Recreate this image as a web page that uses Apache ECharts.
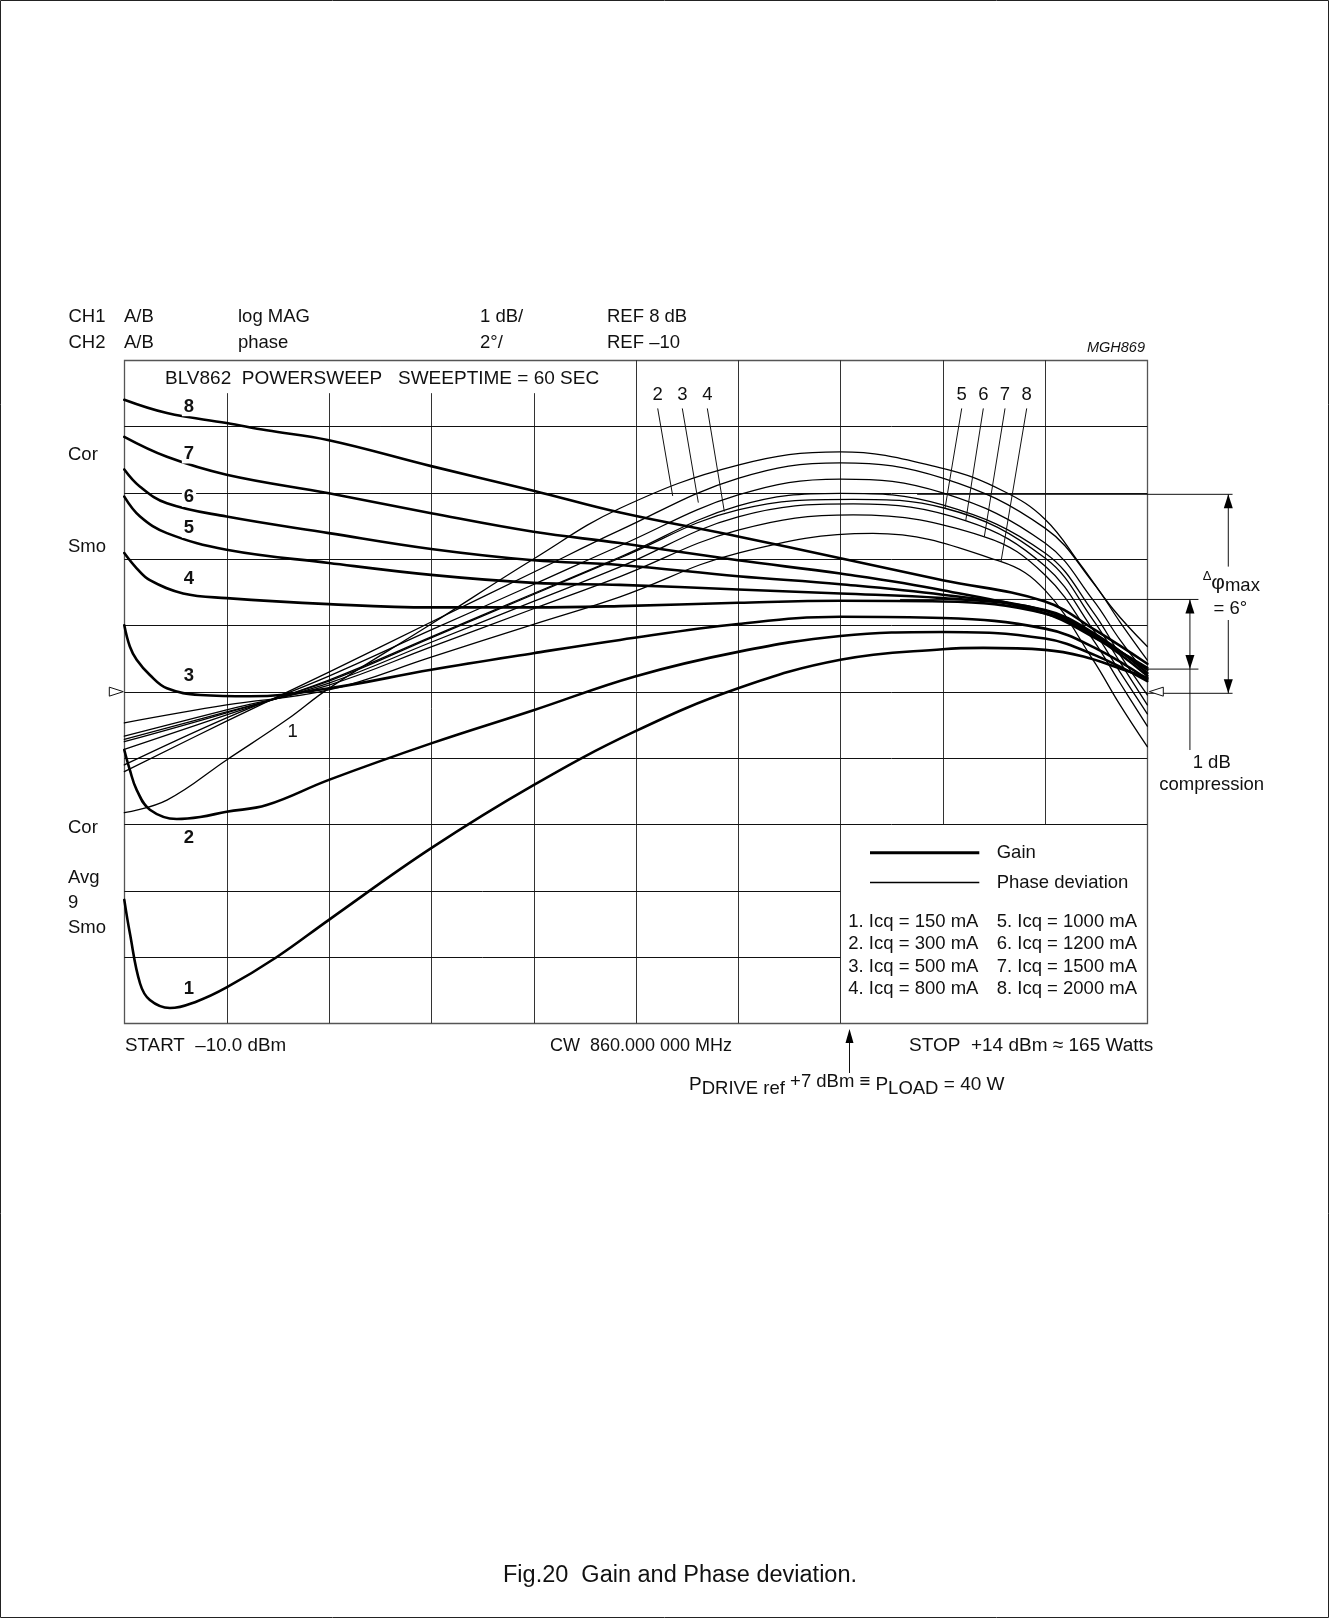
<!DOCTYPE html>
<html>
<head>
<meta charset="utf-8">
<title>Fig.20 Gain and Phase deviation</title>
<script src="https://cdn.jsdelivr.net/npm/echarts@6/dist/echarts.min.js"></script>
<style>
html,body{margin:0;padding:0;background:#fff;}
#chart{width:1329px;height:1618px;}
</style>
</head>
<body>
<div id="chart"></div>
<script>
// ---------------- DATA ----------------
// x: drive power (dBm), START -10 dBm .. STOP +14 dBm
// CH1 gain: 1 dB/div, REF 8 dB ; CH2 phase: 2 deg/div, REF -10
const xTicks = [-10, -7.6, -5.2, -2.8, -0.4, 2, 4.4, 6.8, 9.2, 11.6, 14];
const gainTicks = [3, 4, 5, 6, 7, 8, 9, 10, 11, 12, 13];
const phaseTicks = [-20, -18, -16, -14, -12, -10, -8, -6, -4, -2, 0];
const gainRef = 8;
const phaseRef = -10;

// Gain curves (dB) for Icq 1..8
const gain1 = [[-10,4.86],[-9.87,4.36],[-9.63,3.60],[-9.40,3.35],[-8.93,3.23],[-8.30,3.33],[-7.6,3.54],[-6.42,4.00],[-5.2,4.56],[-2.8,5.64],[-0.4,6.59],[1.98,7.40],[4.4,8.05],[6.8,8.48],[9.2,8.64],[10.15,8.66],[11.6,8.63],[12.5,8.53],[13.36,8.35],[14,8.21]];
const gain2 = [[-10,7.12],[-9.87,6.82],[-9.71,6.52],[-9.40,6.22],[-8.77,6.08],[-8.22,6.11],[-7.6,6.19],[-6.66,6.29],[-5.2,6.67],[-2.8,7.22],[-0.4,7.72],[1.98,8.23],[4.4,8.60],[6.8,8.84],[9.2,8.90],[11.6,8.80],[12.77,8.55],[14,8.16]];
const gain3 = [[-10,9.00],[-9.87,8.68],[-9.71,8.48],[-9.40,8.25],[-9.0,8.05],[-8.22,7.95],[-7.05,7.93],[-5.2,8.05],[-2.8,8.33],[-0.4,8.58],[1.63,8.78],[4.4,9.02],[6.8,9.13],[9.2,9.11],[11.6,8.95],[12.77,8.66],[14,8.19]];
const gain4 = [[-10,10.09],[-9.71,9.86],[-9.40,9.68],[-8.62,9.48],[-7.6,9.41],[-5.2,9.32],[-2.8,9.27],[-0.4,9.27],[1.63,9.29],[4.4,9.34],[6.8,9.37],[9.2,9.36],[11.6,9.18],[12.77,8.82],[14,8.24]];
const gain5 = [[-10,10.94],[-9.63,10.64],[-9.0,10.39],[-7.6,10.14],[-5.2,9.94],[-2.8,9.76],[-0.4,9.64],[1.63,9.61],[4.4,9.54],[6.8,9.48],[9.2,9.41],[11.6,9.23],[12.77,8.87],[14,8.28]];
const gain6 = [[-10,11.35],[-9.63,11.09],[-9.0,10.84],[-7.6,10.64],[-5.2,10.39],[-2.8,10.15],[-0.4,9.98],[1.63,9.91],[4.4,9.74],[6.8,9.62],[9.2,9.46],[11.6,9.22],[12.77,8.84],[14,8.33]];
const gain7 = [[-10,11.84],[-9.0,11.54],[-7.6,11.27],[-5.2,10.99],[-2.8,10.69],[-0.4,10.41],[1.63,10.24],[4.4,9.98],[6.8,9.78],[9.2,9.53],[11.6,9.18],[12.77,8.81],[14,8.36]];
const gain8 = [[-10,12.40],[-9.0,12.20],[-7.6,12.05],[-6.66,11.94],[-5.2,11.79],[-2.8,11.40],[-0.4,11.03],[1.63,10.70],[4.4,10.34],[6.8,10.01],[9.2,9.68],[11.6,9.36],[12.77,8.93],[14,8.42]];

// Phase deviation curves (degrees) for Icq 1..8
const phase1 = [[-10,-13.65],[-9.0,-13.27],[-7.6,-12.06],[-6.19,-10.85],[-5.2,-9.90],[-2.8,-7.96],[-0.4,-6.00],[1.63,-4.47],[4.4,-3.17],[6.8,-2.77],[9.2,-3.27],[10.62,-3.95],[11.6,-4.80],[12.45,-6.20],[13.19,-7.50],[14,-8.64]];
const phase2 = [[-10,-12.41],[-7.6,-10.89],[-5.2,-9.41],[-2.8,-7.90],[-0.4,-6.40],[1.63,-5.13],[4.4,-3.57],[6.8,-3.10],[9.2,-3.56],[11.6,-5.07],[12.73,-6.72],[13.36,-7.90],[14,-9.05]];
const phase3 = [[-10,-12.21],[-7.6,-10.79],[-5.2,-9.53],[-2.8,-8.14],[-0.4,-6.77],[1.63,-5.60],[4.4,-4.07],[6.8,-3.59],[9.2,-4.01],[11.6,-5.52],[12.73,-7.24],[13.36,-8.44],[14,-9.50]];
const phase4 = [[-10,-11.74],[-7.6,-10.70],[-5.2,-9.65],[-2.8,-8.35],[-0.4,-7.04],[1.63,-5.94],[4.4,-4.40],[6.8,-4.02],[9.2,-4.37],[11.6,-5.82],[12.73,-7.60],[13.36,-8.89],[14,-10.10]];
const phase5 = [[-10,-11.51],[-7.6,-10.64],[-5.2,-9.68],[-2.8,-8.38],[-0.4,-7.07],[1.63,-5.97],[4.4,-4.52],[7.1,-4.20],[9.25,-4.47],[11.6,-5.97],[12.73,-7.84],[13.36,-9.11],[14,-10.40]];
const phase6 = [[-10,-11.44],[-7.6,-10.61],[-5.2,-9.74],[-2.8,-8.51],[-0.4,-7.28],[1.63,-6.24],[4.4,-4.73],[7.1,-4.34],[9.75,-4.85],[11.6,-6.21],[12.73,-8.14],[13.36,-9.41],[14,-10.67]];
const phase7 = [[-10,-11.34],[-7.6,-10.55],[-5.2,-9.80],[-2.8,-8.65],[-0.4,-7.50],[1.63,-6.53],[4.4,-5.13],[7.1,-4.67],[10.18,-5.33],[11.6,-6.48],[12.73,-8.44],[13.36,-9.74],[14,-11.04]];
const phase8 = [[-10,-10.94],[-7.6,-10.40],[-5.2,-9.95],[-2.8,-8.96],[-0.4,-7.97],[1.63,-7.14],[4.4,-5.82],[7.56,-5.23],[10.57,-6.08],[11.6,-6.94],[12.73,-9.05],[13.36,-10.40],[14,-11.66]];

// Labels
const icqLabels = ['1. Icq = 150 mA','2. Icq = 300 mA','3. Icq = 500 mA','4. Icq = 800 mA',
                   '5. Icq = 1000 mA','6. Icq = 1200 mA','7. Icq = 1500 mA','8. Icq = 2000 mA'];
// phase leader lines: [label, [x,phase] top, [x,phase] end on curve]
const phaseLeaders = [
  ['2',[2.514,-1.46],[2.866,-4.10]],
  ['3',[3.091,-1.46],[3.467,-4.30]],
  ['4',[3.678,-1.46],[4.077,-4.57]],
  ['5',[9.646,-1.46],[9.255,-4.47]],
  ['6',[10.153,-1.46],[9.740,-4.85]],
  ['7',[10.662,-1.46],[10.176,-5.33]],
  ['8',[11.171,-1.46],[10.568,-6.08]]
];
const driveRef = 7;              // P_DRIVE ref +7 dBm
const dPhiTop = -4.05, dPhiBot = -10.05;   // delta phi max = 6 deg
const compTop = 9.39, compBot = 8.34;      // 1 dB compression

// ---------------- CHART ----------------
const FONT = '"Liberation Sans", Arial, Helvetica, sans-serif';
const chart = echarts.init(document.getElementById('chart'), null, {renderer:'canvas'});

const gains = [gain1,gain2,gain3,gain4,gain5,gain6,gain7,gain8];
const phases = [phase1,phase2,phase3,phase4,phase5,phase6,phase7,phase8];

const series = [];
gains.forEach((d,i)=>series.push({
  type:'line', name:'Gain '+(i+1), data:d, xAxisIndex:0, yAxisIndex:0,
  smooth:0.4, symbol:'none', silent:true, z:3,
  lineStyle:{color:'#000', width:2.6, cap:'round', join:'round'}
}));
phases.forEach((d,i)=>series.push({
  type:'line', name:'Phase '+(i+1), data:d, xAxisIndex:0, yAxisIndex:1,
  smooth:0.4, symbol:'none', silent:true, z:3,
  lineStyle:{color:'#000', width:1.3, cap:'round', join:'round'}
}));

chart.setOption({
  animation:false,
  backgroundColor:'#fff',
  grid:{left:124.3, top:360, width:1023, height:663.3, show:false},
  xAxis:{type:'value', min:xTicks[0], max:xTicks[xTicks.length-1], show:false},
  yAxis:[
    {type:'value', min:gainTicks[0], max:gainTicks[gainTicks.length-1], show:false},
    {type:'value', min:phaseTicks[0], max:phaseTicks[phaseTicks.length-1], show:false}
  ],
  series:series
});

const P = (x,y)=>chart.convertToPixel({xAxisIndex:0,yAxisIndex:0},[x,y]);
const Q = (x,y)=>chart.convertToPixel({xAxisIndex:0,yAxisIndex:1},[x,y]);
const G = [];
const crisp = v => Math.round(v) + 0.5;
function seg(a,b,w,c,z){G.push({type:'line', silent:true, z:z||1,
  shape:{x1:a[0],y1:a[1],x2:b[0],y2:b[1]}, style:{stroke:c||'#111', lineWidth:w||1}});}
function gridSeg(a,b,c){ // crisp vertical/horizontal
  if (Math.abs(a[0]-b[0])<0.01){const x=crisp(a[0]); seg([x,a[1]],[x,b[1]],1,c||'#222');}
  else {const y=crisp(a[1]); seg([a[0],y],[b[0],y],1,c||'#222');}
}
function txt(x,y,s,o){G.push({type:'text', x:x, y:y, silent:true, z:10,
  style:Object.assign({text:s, fill:'#111', fontSize:18.5, fontFamily:FONT, align:'left', verticalAlign:'middle'}, o||{})});}
function head(tip,dir,len,half){len=len||14; half=half||4.5; const s=(dir==='up')?1:-1;
  G.push({type:'polygon', silent:true, z:6, shape:{points:[[tip[0],tip[1]],[tip[0]-half,tip[1]+s*len],[tip[0]+half,tip[1]+s*len]]}, style:{fill:'#000'}});}

// page border
G.push({type:'rect', silent:true, z:0, shape:{x:0.5,y:0.5,width:1328,height:1617}, style:{fill:null, stroke:'#222', lineWidth:1}});

// plot frame
const xMin=xTicks[0], xMax=xTicks[xTicks.length-1];
const gMin=gainTicks[0], gMax=gainTicks[gainTicks.length-1];
const tl=P(xMin,gMax), br=P(xMax,gMin);
G.push({type:'rect', silent:true, z:1, shape:{x:crisp(tl[0]),y:crisp(tl[1]),width:Math.round(br[0]-tl[0]),height:Math.round(br[1]-tl[1])}, style:{fill:null, stroke:'#555', lineWidth:1.3}});

// grid divisions
const titleRowGain = 12.5;   // verticals under the title start lower
const legendTopGain = 6, legendLeftX = 6.8;
xTicks.slice(1,-1).forEach(x=>{
  const top = x < 0 ? titleRowGain : gMax;
  const bot = x > legendLeftX ? legendTopGain : gMin;
  gridSeg(P(x,top), P(x,bot), '#333');
});
gainTicks.slice(1,-1).forEach(g=>{
  const right = g < legendTopGain ? legendLeftX : xMax;
  gridSeg(P(xMin,g), P(right,g), '#111');
});

// reference markers
const rl = P(xMin,gainRef), rr = P(xMax,gainRef);
G.push({type:'polygon', silent:true, z:6, shape:{points:[[rl[0]-15,rl[1]-4.5],[rl[0]-15,rl[1]+4.5],[rl[0]-1,rl[1]]]}, style:{fill:'#fff', stroke:'#111', lineWidth:1}});
G.push({type:'polygon', silent:true, z:6, shape:{points:[[rr[0]+16,rr[1]-4.5],[rr[0]+16,rr[1]+4.5],[rr[0]+2,rr[1]]]}, style:{fill:'#fff', stroke:'#111', lineWidth:1}});

// header texts
const hdrY1 = 317, hdrY2 = 342.5;
txt(68.5,hdrY1,'CH1'); txt(124,hdrY1,'A/B'); txt(238,hdrY1,'log MAG'); txt(480,hdrY1,'1 dB/'); txt(607,hdrY1,'REF 8 dB');
txt(68.5,hdrY2,'CH2'); txt(124,hdrY2,'A/B'); txt(238,hdrY2,'phase'); txt(480,hdrY2,'2°/'); txt(607,hdrY2,'REF \u201310');
txt(1145,348,'MGH869',{align:'right', fontStyle:'italic', fontSize:14.5});
txt(165,378.7,'BLV862  POWERSWEEP   SWEEPTIME = 60 SEC',{fontSize:19});

// left side labels
txt(68,455,'Cor'); txt(68,547,'Smo');
txt(68,827.5,'Cor'); txt(68,878,'Avg'); txt(68,903,'9'); txt(68,927.6,'Smo');

// gain curve numbers (bold)
const gainLabelY = [988.7, 838.3, 676, 579.3, 528.3, 497.3, 454, 406.7];
gainLabelY.forEach((y,i)=>txt(189,y,String(i+1),{align:'center', fontWeight:'bold', backgroundColor:'#fff', padding:[0,2]}));
txt(292.7,732.3,'1',{align:'center'});

// phase leader lines with numbers
phaseLeaders.forEach(l=>{
  const a=Q(l[1][0],l[1][1]), b=Q(l[2][0],l[2][1]);
  seg(a,b,1,'#111',4);
  txt(a[0], a[1]-14, l[0], {align:'center'});
});

// delta phi max annotation
const xdp = 15.9, xdpL = 8.6, xdpR = 16.0;
seg(Q(xdpL,dPhiTop), Q(xdpR,dPhiTop), 1, '#111', 2);
seg(Q(xMax,dPhiBot), Q(xdpR,dPhiBot), 1, '#111', 2);
seg(Q(xdp,dPhiTop), Q(xdp,-6.23), 1, '#111', 2);
seg(Q(xdp,-7.84), Q(xdp,dPhiBot), 1, '#111', 2);
head(Q(xdp,dPhiTop),'up'); head(Q(xdp,dPhiBot),'down');
const dpt = Q(xdp,(dPhiTop+dPhiBot)/2);
G.push({type:'text', x:dpt[0]+3, y:dpt[1]-11, silent:true, z:10, style:{
  text:'{d|\u0394}{p|\u03c6}{m|max}', align:'center', verticalAlign:'middle', fill:'#111',
  rich:{d:{fontSize:13, fontFamily:FONT, lineHeight:22, verticalAlign:'top', fill:'#111'},
        p:{fontSize:21, fontFamily:FONT, lineHeight:26, verticalAlign:'middle', fill:'#111'},
        m:{fontSize:18.5, fontFamily:FONT, lineHeight:22, verticalAlign:'bottom', fill:'#111'}}}});
txt(dpt[0]+2, dpt[1]+15, '= 6°', {align:'center'});

// 1 dB compression annotation
const xc = 15.0, xcL = 8.2, xcR = 15.2, compLow = 7.12;
seg(P(xcL,compTop), P(xcR,compTop), 1, '#111', 2);
seg(P(xMax,compBot), P(xcR,compBot), 1, '#111', 2);
seg(P(xc,compTop), P(xc,compLow), 1, '#111', 2);
head(P(xc,compTop),'up'); head(P(xc,compBot),'down');
txt(1211.7,763,'1 dB',{align:'center'});
txt(1211.7,785,'compression',{align:'center'});

// bottom texts
txt(125,1046,'START  \u201310.0 dBm',{fontSize:18.8});
txt(550,1046,'CW  860.000 000 MHz',{fontSize:18});
txt(909,1046,'STOP  +14 dBm \u2248 165 Watts',{fontSize:19});
const ax = P(driveRef,gMin)[0];
seg([crisp(ax),1041],[crisp(ax),1073],1,'#111',2);
head([crisp(ax),1029],'up',14,4);
G.push({type:'text', x:689, y:1085, silent:true, z:10, style:{
  text:'{n|P}{s|DRIVE ref}{u| +7 dBm \u2261 }{n|P}{s|LOAD}{n| = 40 W}', align:'left', verticalAlign:'middle', fill:'#111',
  rich:{n:{fontSize:19, fontFamily:FONT, lineHeight:26, verticalAlign:'middle', fill:'#111'},
        s:{fontSize:18.5, fontFamily:FONT, lineHeight:20, verticalAlign:'bottom', fill:'#111'},
        u:{fontSize:18.5, fontFamily:FONT, lineHeight:20, verticalAlign:'top', fill:'#111'}}}});

// legend box contents
seg([870,852.7],[979.3,852.7],3,'#000',6);
seg([870,882.5],[979.3,882.5],1.3,'#000',6);
txt(996.7,853,'Gain'); txt(996.7,883,'Phase deviation');
const icqY = [921.7, 944.3, 966.7, 989.3];
icqLabels.forEach((s,i)=>txt(i<4?848.3:996.7, icqY[i%4], s));

// caption
txt(680,1576,'Fig.20  Gain and Phase deviation.',{align:'center', fontSize:23.5});

chart.setOption({graphic:{elements:G}});
</script>
</body>
</html>
